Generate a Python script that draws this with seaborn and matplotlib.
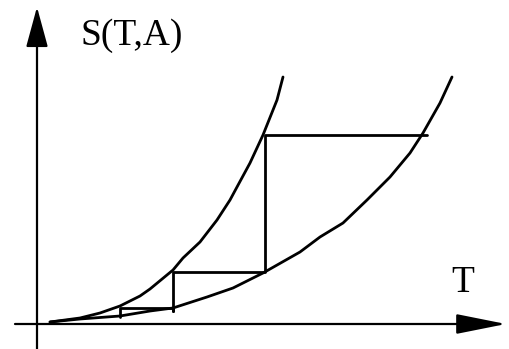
import numpy as np
import pandas as pd
import matplotlib
matplotlib.use('Agg')
import matplotlib.pyplot as plt
import seaborn as sns

sns.set_style('white')
plt.rcParams['font.family'] = ['Liberation Serif', 'DejaVu Serif']

# curve points (T to the right, S upward)
upper_T = [50, 80, 100, 120, 140, 150, 173, 183, 200, 217, 230, 237, 250, 263, 277, 283]
upper_S = [27, 31, 36, 43, 53, 60, 79, 91, 107, 129, 149, 162, 186, 214, 249, 272]

lower_T = [50, 80, 120, 150, 173, 207, 233, 263, 300, 320, 343, 367, 390, 410, 423, 440, 452]
lower_S = [27, 30, 33, 38, 41, 52, 61, 76, 97, 112, 126, 149, 172, 196, 216, 246, 272]

# staircase between the two curves
step_T = [120, 120, 173, 173, 173, 265, 265, 427]
step_S = [32, 41, 41, 38, 77, 77, 214, 214]

curves = pd.concat([
    pd.DataFrame({'T': upper_T, 'S': upper_S, 'curve': 'upper'}),
    pd.DataFrame({'T': lower_T, 'S': lower_S, 'curve': 'lower'}),
    pd.DataFrame({'T': step_T, 'S': step_S, 'curve': 'step'}),
])

fig = plt.figure(figsize=(5.09, 3.49), dpi=100)
ax = fig.add_axes([0, 0, 1, 1])

sns.lineplot(data=curves, x='T', y='S', units='curve', estimator=None, sort=False,
             color='black', lw=2.0, ax=ax, legend=False)

# axes with arrows
ax.annotate('', xy=(506, 25), xytext=(15, 25),
            arrowprops=dict(arrowstyle='-|>,head_length=3.1,head_width=0.62',
                            lw=1.6, color='black', shrinkA=0, shrinkB=0))
ax.annotate('', xy=(37, 342), xytext=(37, 0),
            arrowprops=dict(arrowstyle='-|>,head_length=2.5,head_width=0.68',
                            lw=1.6, color='black', shrinkA=0, shrinkB=0))

ax.text(81, 304, 'S(T,A)', fontsize=27, color='black', ha='left', va='baseline')
ax.text(451, 57, 'T', fontsize=27, color='black', ha='left', va='baseline')

ax.set_xlim(0, 509)
ax.set_ylim(0, 349)
ax.set_axis_off()

fig.savefig('out.png', dpi=100)
